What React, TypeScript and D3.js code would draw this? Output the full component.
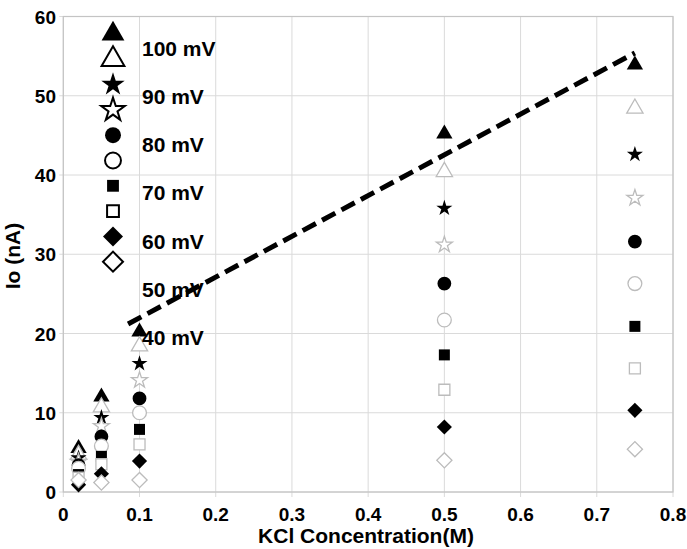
import { useEffect, useRef } from 'react'
import * as d3 from 'd3'

// KCl concentration (M) of each measurement column
const concentrations = [0.02, 0.05, 0.1, 0.5, 0.75]

// marker style of each plotted series (drawn in this order)
const markerKinds = ['triangle', 'triangle', 'star', 'star', 'circle', 'circle', 'square', 'square', 'diamond', 'diamond']
const markerFilled = [true, false, true, false, true, false, true, false, true, false]

// Io (nA) per series, one value per concentration
const currents: number[][] = [
  [5.5, 12.0, 20.2, 45.2, 53.9],
  [4.7, 10.7, 18.4, 40.4, 48.4],
  [4.3, 9.4, 16.2, 35.8, 42.6],
  [3.8, 8.3, 14.1, 31.2, 37.1],
  [3.4, 7.0, 11.8, 26.3, 31.6],
  [3.0, 5.8, 10.0, 21.7, 26.3],
  [2.2, 4.5, 7.9, 17.3, 20.9],
  [1.8, 3.5, 6.0, 12.9, 15.6],
  [0.9, 2.3, 3.9, 8.2, 10.3],
  [1.5, 1.2, 1.5, 4.0, 5.4],
]

// fitted dashed trend line (x in M, y in nA)
const trendX = [0.085, 0.75]
const trendY = [21.2, 55.4]

const legendLabels = ['100 mV', '90 mV', '80 mV', '70 mV', '60 mV', '50 mV', '40 mV']

const xTicks = [0, 0.1, 0.2, 0.3, 0.4, 0.5, 0.6, 0.7, 0.8]
const yTicks = [0, 10, 20, 30, 40, 50, 60]

const W = 687
const H = 549
const FONT = '"Liberation Sans", Arial, sans-serif'

const symbolFor = (kind: string) => {
  switch (kind) {
    case 'triangle': return d3.symbolTriangle
    case 'star': return d3.symbolStar
    case 'circle': return d3.symbolCircle
    case 'diamond': return d3.symbolSquare
    default: return d3.symbolSquare
  }
}

// marker areas, plot and legend
const plotSize: Record<string, number> = { triangle: 115, star: 80, circle: 150, square: 121, diamond: 115 }
const legendSize: Record<string, number> = { triangle: 225, star: 170, circle: 200, square: 140, diamond: 200 }

export default function App() {
  const svgRef = useRef<SVGSVGElement>(null)

  useEffect(() => {
    if (!svgRef.current) return
    const svg = d3.select(svgRef.current)
    svg.selectAll('*').remove()

    const left = 63.3, right = 673, top = 16.5, bottom = 492

    const x = d3.scaleLinear().domain([0, 0.8]).range([left, right])
    const y = d3.scaleLinear().domain([0, 60]).range([bottom, top])

    svg.append('rect').attr('width', W).attr('height', H).attr('fill', 'white')

    // grid
    const grid = svg.append('g').attr('stroke', '#dadada').attr('stroke-width', 1)
    xTicks.forEach((t) => {
      grid.append('line').attr('x1', x(t)).attr('x2', x(t)).attr('y1', top).attr('y2', bottom + 5)
    })
    yTicks.forEach((t) => {
      grid.append('line').attr('x1', left - 4).attr('x2', right).attr('y1', y(t)).attr('y2', y(t))
    })

    // frame
    svg.append('rect')
      .attr('x', left).attr('y', top)
      .attr('width', right - left).attr('height', bottom - top)
      .attr('fill', 'none').attr('stroke', '#c4c4c4').attr('stroke-width', 1.2)

    const fmt = d3.format('.1~f')

    // tick labels
    svg.append('g').selectAll('text')
      .data(xTicks).enter().append('text')
      .attr('x', (d) => x(d)).attr('y', 521)
      .attr('text-anchor', 'middle')
      .attr('font-family', FONT).attr('font-weight', 'bold').attr('font-size', 19)
      .text((d) => fmt(d))

    svg.append('g').selectAll('text')
      .data(yTicks).enter().append('text')
      .attr('x', 56).attr('y', (d) => y(d) + 7)
      .attr('text-anchor', 'end')
      .attr('font-family', FONT).attr('font-weight', 'bold').attr('font-size', 19)
      .text((d) => d)

    // axis titles
    svg.append('text')
      .attr('x', 366).attr('y', 543)
      .attr('text-anchor', 'middle')
      .attr('font-family', FONT).attr('font-weight', 'bold').attr('font-size', 21)
      .text('KCl Concentration(M)')

    svg.append('text')
      .attr('transform', `translate(20, 256) rotate(-90)`)
      .attr('text-anchor', 'middle')
      .attr('font-family', FONT).attr('font-weight', 'bold').attr('font-size', 21)
      .text('Io (nA)')

    // data points
    const pts = svg.append('g')
    currents.forEach((vals, si) => {
      const kind = markerKinds[si]
      const filled = markerFilled[si]
      const path = d3.symbol().type(symbolFor(kind)).size(plotSize[kind])()
      vals.forEach((v, i) => {
        pts.append('path')
          .attr('d', path)
          .attr('transform', `translate(${x(concentrations[i])}, ${y(v)})${kind === 'diamond' ? ' rotate(45)' : ''}`)
          .attr('fill', filled ? 'black' : 'white')
          .attr('stroke', filled ? 'none' : '#bcbcbc')
          .attr('stroke-width', 1.3)
      })
    })

    // trend line
    const line = d3.line<number>()
      .x((_, i) => x(trendX[i]))
      .y((d) => y(d))
    svg.append('path')
      .attr('d', line(trendY))
      .attr('fill', 'none')
      .attr('stroke', 'black')
      .attr('stroke-width', 5)
      .attr('stroke-dasharray', '15 7')

    // legend: marker column and label column
    const leg = svg.append('g')
    markerKinds.forEach((kind, i) => {
      const filled = markerFilled[i]
      const path = d3.symbol().type(symbolFor(kind)).size(legendSize[kind])()
      leg.append('path')
        .attr('d', path)
        .attr('transform', `translate(113, ${34 + i * 25.3})${kind === 'diamond' ? ' rotate(45)' : ''}`)
        .attr('fill', filled ? 'black' : 'white')
        .attr('stroke', filled ? 'none' : 'black')
        .attr('stroke-width', 2)
    })
    legendLabels.forEach((lab, i) => {
      leg.append('text')
        .attr('x', 142).attr('y', 55.5 + i * 48.3)
        .attr('font-family', FONT).attr('font-weight', 'bold').attr('font-size', 21)
        .text(lab)
    })
  }, [])

  return (
    <svg
      ref={svgRef}
      width={W}
      height={H}
      style={{ position: 'absolute', left: 0, top: 0, display: 'block' }}
    />
  )
}
